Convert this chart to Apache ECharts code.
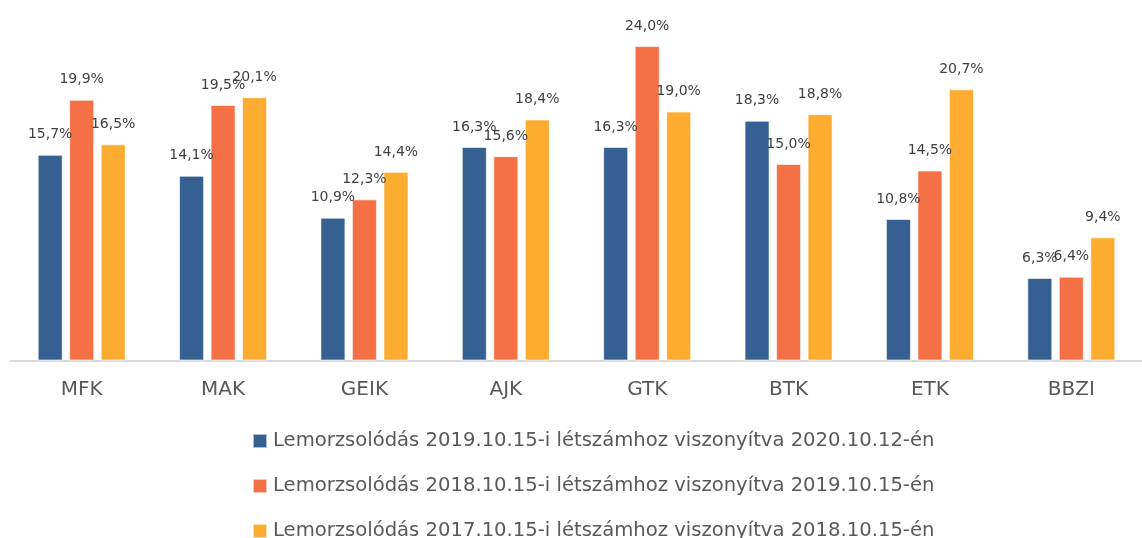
<!DOCTYPE html>
<html>
<head>
<meta charset="utf-8">
<script src="https://cdn.jsdelivr.net/npm/echarts@6/dist/echarts.min.js"></script>
<style>
    html, body { margin: 0; padding: 0; background: #fff; }
    #chart { width: 1142px; height: 538px; }
</style>
</head>
<body>
<div id="chart"></div>
<script>
// kategóriák (karok)
let categories = ['MFK', 'MAK', 'GEIK', 'AJK', 'GTK', 'BTK', 'ETK', 'BBZI'];
// sorozatok nevei
let seriesNames = [
    'Lemorzsolódás 2019.10.15-i létszámhoz viszonyítva 2020.10.12-én',
    'Lemorzsolódás 2018.10.15-i létszámhoz viszonyítva 2019.10.15-én',
    'Lemorzsolódás 2017.10.15-i létszámhoz viszonyítva 2018.10.15-én'
];
// értékek (%)
let values2020 = [15.7, 14.1, 10.9, 16.3, 16.3, 18.3, 10.8, 6.3];
let values2019 = [19.9, 19.5, 12.3, 15.6, 24.0, 15.0, 14.5, 6.4];
let values2018 = [16.5, 20.1, 14.4, 18.4, 19.0, 18.8, 20.7, 9.4];

let colors = ['#376092', '#F57044', '#FCAC31'];
let font = 'DejaVu Sans';

let chart = echarts.init(document.getElementById('chart'));

function makeSeries(name, data, color) {
    return {
        name: name,
        type: 'bar',
        barWidth: 25,
        barGap: '26%',
        itemStyle: {
            color: color,
            borderColor: 'rgba(255,255,255,0.6)',
            borderWidth: 1
        },
        label: {
            show: true,
            position: 'top',
            distance: 13,
            color: '#404040',
            fontFamily: font,
            fontSize: 14,
            formatter: function (p) {
                return p.value.toFixed(1).replace('.', ',') + '%';
            }
        },
        data: data
    };
}

// egy jelmagyarázat soronként, hogy ne törjön oszlopokba
function makeLegend(name, top) {
    return {
        orient: 'horizontal',
        left: 252,
        top: top,
        padding: 0,
        itemWidth: 14,
        itemHeight: 14,
        icon: 'rect',
        textStyle: {
            color: '#595959',
            fontFamily: font,
            fontSize: 19.6,
            padding: [0, 0, 0, 1]
        },
        data: [name]
    };
}

let option = {
    animation: false,
    color: colors,
    legend: [
        makeLegend(seriesNames[0], 431),
        makeLegend(seriesNames[1], 476),
        makeLegend(seriesNames[2], 521)
    ],
    grid: {
        left: 11,
        top: 33,
        width: 1143,
        height: 327.5,
        containLabel: false
    },
    xAxis: {
        type: 'category',
        data: categories,
        axisTick: { show: false },
        axisLine: {
            lineStyle: { color: '#d9d9d9', width: 2 }
        },
        axisLabel: {
            margin: 19,
            color: '#595959',
            fontFamily: font,
            fontSize: 20
        }
    },
    yAxis: {
        type: 'value',
        min: 0,
        max: 25,
        show: false
    },
    series: [
        makeSeries(seriesNames[0], values2020, colors[0]),
        makeSeries(seriesNames[1], values2019, colors[1]),
        makeSeries(seriesNames[2], values2018, colors[2])
    ]
};

chart.setOption(option);
</script>
</body>
</html>
